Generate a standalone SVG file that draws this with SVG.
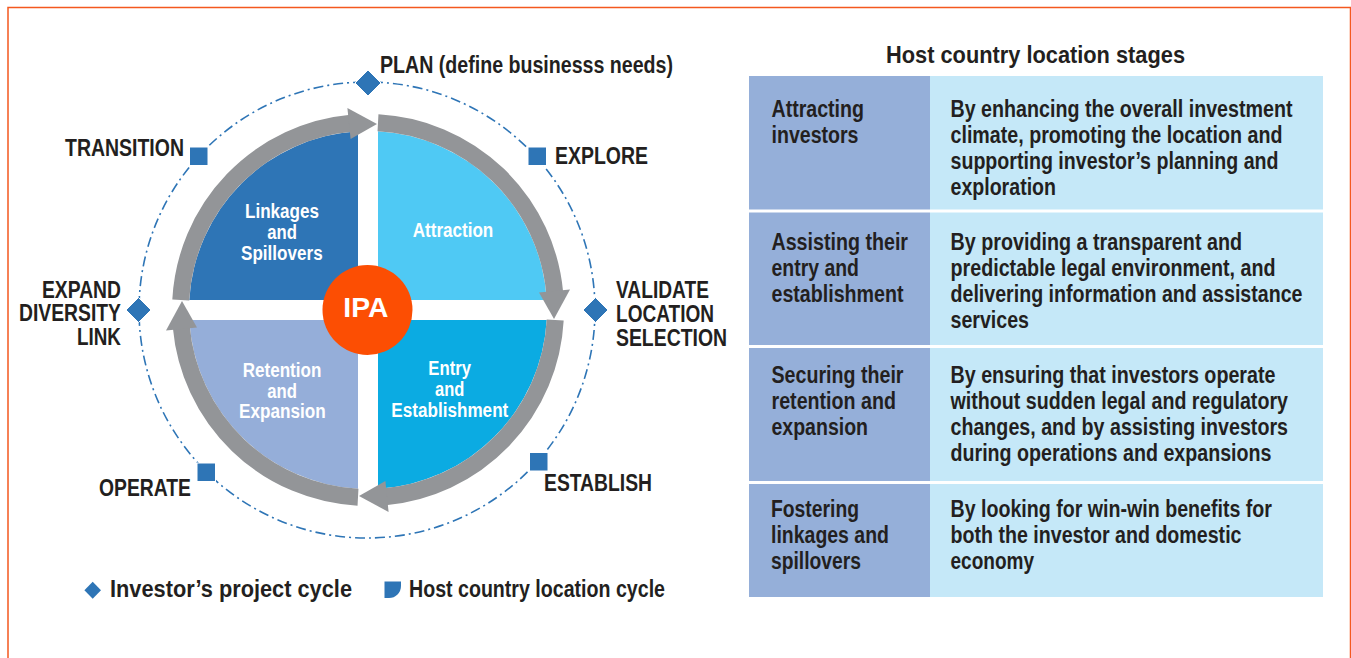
<svg xmlns="http://www.w3.org/2000/svg" xmlns:xlink="http://www.w3.org/1999/xlink" width="1351" height="658" viewBox="0 0 1351 658">
<style>
text{font-family:"Liberation Sans Narrow","Liberation Sans",Arial,sans-serif;font-weight:bold;}
.lbl{font-size:23px;fill:#231f20;}
.q{font-size:20px;fill:#ffffff;}
.tb{font-size:23px;fill:#231f20;}
.mk{fill:#2e75b6;stroke:#ffffff;stroke-width:1;}
.ring{fill:none;stroke:#939598;stroke-width:17;}
.head{fill:#939598;}
</style>
<defs>
<g id="arrow">
<path class="ring" d="M-187.2,-10 A187.5,187.5 0 0 1 -17,-186.7"/>
<polygon class="head" points="-20.6,-202 -17.4,-171 9,-186"/>
</g>
</defs>
<rect x="0" y="0" width="1351" height="658" fill="#ffffff"/>
<rect x="8" y="7.5" width="1342.5" height="670" fill="none" stroke="#f4581f" stroke-width="1.5"/>

<g id="cycle-track">
<circle cx="367" cy="310" r="228" fill="none" stroke="#2e75b6" stroke-width="1.6" stroke-dasharray="10 4 2 4"/>
</g>

<g id="quadrants">
<g id="q-linkages"><path d="M358,300 L189.3,300 A179,179 0 0 1 358,131.3 Z" fill="#2e75b6"/>
<text class="q" x="245" y="217.7" textLength="74" lengthAdjust="spacingAndGlyphs">Linkages</text>
<text class="q" x="267.3" y="239" textLength="29.7" lengthAdjust="spacingAndGlyphs">and</text>
<text class="q" x="241" y="260" textLength="81.7" lengthAdjust="spacingAndGlyphs">Spillovers</text></g>
<g id="q-attraction"><path d="M378,300 L378,131.3 A179,179 0 0 1 546.7,300 Z" fill="#4fc9f4"/>
<text class="q" x="412.7" y="237" textLength="80.6" lengthAdjust="spacingAndGlyphs">Attraction</text></g>
<g id="q-entry"><path d="M378,320 L546.7,320 A179,179 0 0 1 378,488.7 Z" fill="#0babe2"/>
<text class="q" x="428.3" y="375" textLength="42.7" lengthAdjust="spacingAndGlyphs">Entry</text>
<text class="q" x="435" y="395.7" textLength="29.3" lengthAdjust="spacingAndGlyphs">and</text>
<text class="q" x="391.3" y="416.7" textLength="117" lengthAdjust="spacingAndGlyphs">Establishment</text></g>
<g id="q-retention"><path d="M358,320 L358,488.7 A179,179 0 0 1 189.3,320 Z" fill="#95aed9"/>
<text class="q" x="242.7" y="377.3" textLength="78.6" lengthAdjust="spacingAndGlyphs">Retention</text>
<text class="q" x="267.3" y="398.3" textLength="29.7" lengthAdjust="spacingAndGlyphs">and</text>
<text class="q" x="239" y="418.3" textLength="86.7" lengthAdjust="spacingAndGlyphs">Expansion</text></g>
</g>

<g id="connectors">
<use xlink:href="#arrow" href="#arrow" transform="translate(368,310)"/>
<use xlink:href="#arrow" href="#arrow" transform="translate(368,310) rotate(90)"/>
<use xlink:href="#arrow" href="#arrow" transform="translate(368,310) rotate(180)"/>
<use xlink:href="#arrow" href="#arrow" transform="translate(368,310) rotate(270)"/>
</g>

<g id="ipa">
<circle cx="367.5" cy="310" r="45" fill="#fc4e03"/>
<text x="343.3" y="317.3" font-size="28" fill="#ffffff" textLength="45" lengthAdjust="spacingAndGlyphs">IPA</text>
</g>

<g id="m-plan"><path class="mk" d="M368,70 L381,83 L368,96 L355,83 Z"/>
<text class="lbl" x="380" y="73" textLength="293" lengthAdjust="spacingAndGlyphs">PLAN (define businesss needs)</text></g>
<g id="m-explore"><rect class="mk" x="528" y="147" width="18.5" height="18.5"/>
<text class="lbl" x="555" y="163.5" textLength="93" lengthAdjust="spacingAndGlyphs">EXPLORE</text></g>
<g id="m-validate"><path class="mk" d="M595.5,297.5 L608,310 L595.5,322.5 L583,310 Z"/>
<text class="lbl" x="616" y="297.5" textLength="93" lengthAdjust="spacingAndGlyphs">VALIDATE</text>
<text class="lbl" x="616" y="321.5" textLength="98" lengthAdjust="spacingAndGlyphs">LOCATION</text>
<text class="lbl" x="616" y="345.5" textLength="111" lengthAdjust="spacingAndGlyphs">SELECTION</text></g>
<g id="m-establish"><rect class="mk" x="529.5" y="452.5" width="18.5" height="18.5"/>
<text class="lbl" x="544" y="491" textLength="108" lengthAdjust="spacingAndGlyphs">ESTABLISH</text></g>
<g id="m-operate"><rect class="mk" x="197" y="463" width="18.5" height="18.5"/>
<text class="lbl" x="99" y="496" textLength="92" lengthAdjust="spacingAndGlyphs">OPERATE</text></g>
<g id="m-expand"><path class="mk" d="M138.5,297.5 L151,310 L138.5,322.5 L126,310 Z"/>
<text class="lbl" x="42" y="297.5" textLength="79" lengthAdjust="spacingAndGlyphs">EXPAND</text>
<text class="lbl" x="19" y="321" textLength="102" lengthAdjust="spacingAndGlyphs">DIVERSITY</text>
<text class="lbl" x="77" y="345" textLength="44" lengthAdjust="spacingAndGlyphs">LINK</text></g>
<g id="m-transition"><rect class="mk" x="189.5" y="147" width="18.5" height="18.5"/>
<text class="lbl" x="65" y="156" textLength="119" lengthAdjust="spacingAndGlyphs">TRANSITION</text></g>

<g id="legend">
<path d="M92.7,581.8 L101,590.3 L92.7,598.8 L84.4,590.3 Z" fill="#2e75b6"/>
<text class="lbl" x="110" y="597" textLength="242" lengthAdjust="spacingAndGlyphs">Investor’s project cycle</text>
<path d="M384.5,581.5 H401 V586 A12,12 0 0 1 389,598 H384.5 Z" fill="#2e75b6"/>
<text class="lbl" x="409" y="597" textLength="256" lengthAdjust="spacingAndGlyphs">Host country location cycle</text>
</g>

<g id="table">
<text class="tb" x="886" y="63" textLength="299" lengthAdjust="spacingAndGlyphs" style="font-size:24px">Host country location stages</text>
<rect x="749" y="76" width="181" height="521" fill="#95afd9"/>
<rect x="930" y="76" width="393" height="521" fill="#c5e8f8"/>
<rect x="749" y="209.5" width="574" height="3" fill="#ffffff"/>
<rect x="749" y="345" width="574" height="3" fill="#ffffff"/>
<rect x="749" y="481" width="574" height="3" fill="#ffffff"/>
<g id="row1">
<text class="tb" x="771.5" y="117" textLength="92.5" lengthAdjust="spacingAndGlyphs">Attracting</text>
<text class="tb" x="771.5" y="143" textLength="87" lengthAdjust="spacingAndGlyphs">investors</text>
<text class="tb" x="950.5" y="117" textLength="342" lengthAdjust="spacingAndGlyphs">By enhancing the overall investment</text>
<text class="tb" x="950.5" y="143" textLength="332" lengthAdjust="spacingAndGlyphs">climate, promoting the location and</text>
<text class="tb" x="950.5" y="169" textLength="328" lengthAdjust="spacingAndGlyphs">supporting investor’s planning and</text>
<text class="tb" x="950.5" y="195" textLength="105.5" lengthAdjust="spacingAndGlyphs">exploration</text>
</g>
<g id="row2">
<text class="tb" x="771.5" y="250" textLength="136.5" lengthAdjust="spacingAndGlyphs">Assisting their</text>
<text class="tb" x="771.5" y="276" textLength="87.5" lengthAdjust="spacingAndGlyphs">entry and</text>
<text class="tb" x="771.5" y="302" textLength="132" lengthAdjust="spacingAndGlyphs">establishment</text>
<text class="tb" x="950.5" y="250" textLength="291.5" lengthAdjust="spacingAndGlyphs">By providing a transparent and</text>
<text class="tb" x="950.5" y="276" textLength="325" lengthAdjust="spacingAndGlyphs">predictable legal environment, and</text>
<text class="tb" x="950.5" y="302" textLength="352" lengthAdjust="spacingAndGlyphs">delivering information and assistance</text>
<text class="tb" x="950.5" y="328" textLength="78.5" lengthAdjust="spacingAndGlyphs">services</text>
</g>
<g id="row3">
<text class="tb" x="771.5" y="383" textLength="132" lengthAdjust="spacingAndGlyphs">Securing their</text>
<text class="tb" x="771.5" y="409" textLength="124.5" lengthAdjust="spacingAndGlyphs">retention and</text>
<text class="tb" x="771.5" y="435" textLength="96.5" lengthAdjust="spacingAndGlyphs">expansion</text>
<text class="tb" x="950.5" y="383" textLength="325" lengthAdjust="spacingAndGlyphs">By ensuring that investors operate</text>
<text class="tb" x="950.5" y="409" textLength="337.5" lengthAdjust="spacingAndGlyphs">without sudden legal and regulatory</text>
<text class="tb" x="950.5" y="435" textLength="337.5" lengthAdjust="spacingAndGlyphs">changes, and by assisting investors</text>
<text class="tb" x="950.5" y="461" textLength="321" lengthAdjust="spacingAndGlyphs">during operations and expansions</text>
</g>
<g id="row4">
<text class="tb" x="771" y="517" textLength="88" lengthAdjust="spacingAndGlyphs">Fostering</text>
<text class="tb" x="771" y="543" textLength="118" lengthAdjust="spacingAndGlyphs">linkages and</text>
<text class="tb" x="771" y="569" textLength="90" lengthAdjust="spacingAndGlyphs">spillovers</text>
<text class="tb" x="950.5" y="517" textLength="321.5" lengthAdjust="spacingAndGlyphs">By looking for win-win benefits for</text>
<text class="tb" x="950.5" y="543" textLength="291" lengthAdjust="spacingAndGlyphs">both the investor and domestic</text>
<text class="tb" x="950.5" y="569" textLength="83.5" lengthAdjust="spacingAndGlyphs">economy</text>
</g>
</g>
</svg>
